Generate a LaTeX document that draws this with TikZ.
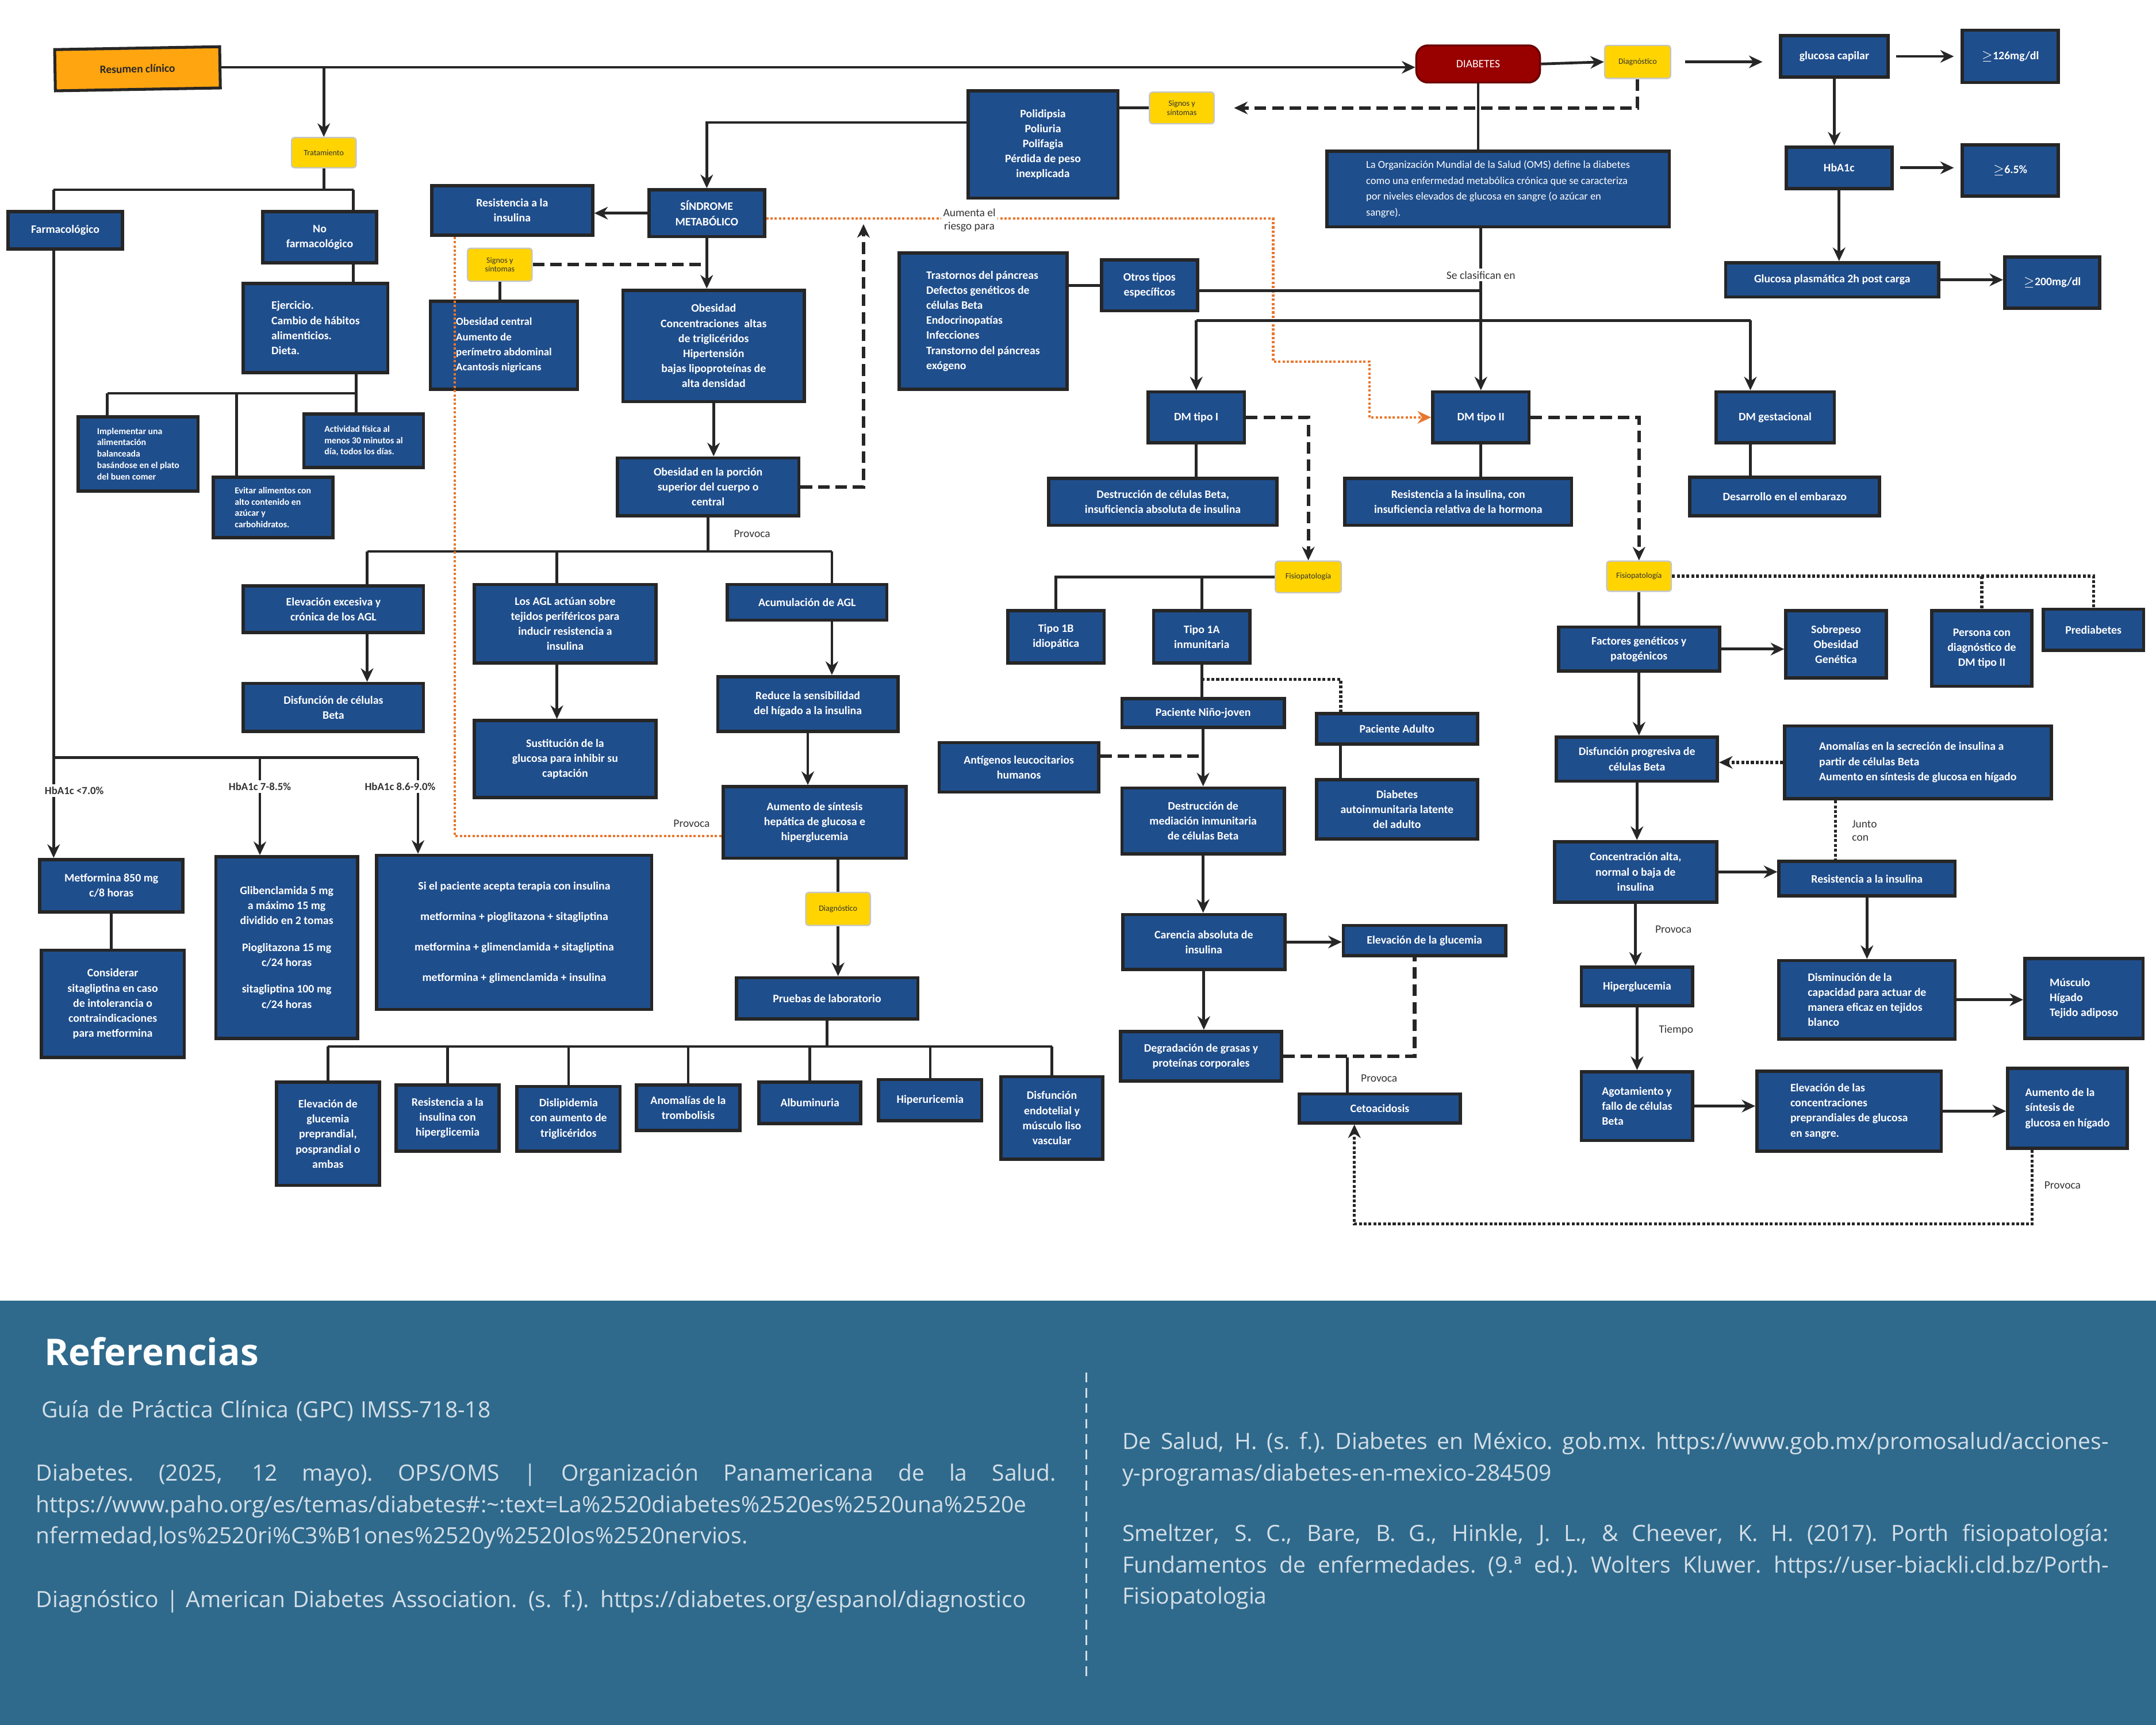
\documentclass[tikz,border=0pt]{standalone}
\usepackage{fontspec}
\setmainfont{Carlito}
\newfontfamily\reffont{Open Sans}
\usepackage{xcolor}
\usetikzlibrary{positioning,calc,arrows.meta}

\definecolor{boxblue}{HTML}{1F4E8C}
\definecolor{edgegray}{HTML}{262626}
\definecolor{labelyellow}{HTML}{FFD400}
\definecolor{clinorange}{HTML}{FFA50F}
\definecolor{diabred}{HTML}{990000}
\definecolor{riskorange}{HTML}{E8772E}
\definecolor{bandblue}{HTML}{2F6A8C}
\definecolor{reftext}{HTML}{D3DEE7}

% a reference line spread to a given width
\newcommand{\justline}[2]{\makebox[#1][s]{\spaceskip=\fontdimen2\font plus 4em\relax\xspaceskip=\fontdimen2\font plus 4em\relax #2}}

\tikzset{
  sz/.style 2 args={minimum width=#1*0.025cm, minimum height=#2*0.025cm},
  bluebox/.style={draw=edgegray, line width=1.7pt, fill=boxblue, text=white, align=center, inner sep=1pt,
    font=\fontsize{5.9}{7.8}\selectfont\bfseries},
  leftbox/.style={bluebox, align=left},
  smallbox/.style={bluebox, align=left, font=\fontsize{4.7}{5.9}\selectfont\bfseries},
  omsbox/.style={bluebox, align=left, font=\fontsize{5.5}{8.2}\selectfont},
  clinbox/.style={draw=edgegray, line width=1.5pt, fill=clinorange, text=black!85, inner sep=1pt,
    font=\fontsize{5.8}{7}\selectfont\bfseries},
  diabbox/.style={draw=diabred!70!black, line width=1pt, fill=diabred, rounded corners=6pt, text=white,
    font=\fontsize{5.8}{7}\selectfont},
  yellowtag/.style={draw=gray!45, line width=0.7pt, fill=labelyellow, rounded corners=1.5pt, text=black!80,
    align=center, inner sep=0.5pt, font=\fontsize{4.2}{4.6}\selectfont},
  edgelabel/.style={fill=white, inner sep=1pt, text=black!80, align=center, font=\fontsize{5.8}{6.8}\selectfont},
  conn/.style={draw=edgegray, line width=1.4pt},
  arr/.style={conn, -{Stealth[length=7pt,width=6.5pt]}},
  dashlink/.style={conn, line width=1.8pt, dash pattern=on 6pt off 3pt},
  dasharr/.style={dashlink, -{Stealth[length=7pt,width=6.5pt]}},
  dotlink/.style={conn, line width=1.6pt, dash pattern=on 1.5pt off 1pt},
  dotarr/.style={dotlink, -{Stealth[length=7pt,width=6.5pt]}},
  risk/.style={draw=riskorange, line width=1.3pt, dash pattern=on 1.2pt off 1pt},
  reftitle/.style={text=white, inner sep=0pt, font=\reffont\fontsize{19}{22}\selectfont\bfseries},
  refbody/.style={text=reftext, inner sep=0pt, align=left, font=\reffont\fontsize{11.6}{16.2}\selectfont},
}

\begin{document}
\begin{tikzpicture}[x=0.025cm, y=-0.025cm]
    \useasboundingbox (0,0) rectangle (1568,1254.4);

    % Summary and diagnosis
    \node [clinbox, sz={120}{30}, rotate=1] (resumen) at (100,50) {Resumen clínico};
    \node [diabbox, sz={90}{27}] (diabetes) at (1075,46.5) {DIABETES};
    \node [yellowtag, sz={48}{24}] (diag1) at (1191,45) {Diagnóstico};
    \node [bluebox, sz={78}{30}] (glucap) at (1334,41) {glucosa capilar};
    \node [bluebox, sz={70}{38}] (g126) at (1462,41) {$\geq$126mg/dl};
    \node [bluebox, sz={77}{30}] (hba1c) at (1337.5,122) {HbA1c};
    \node [bluebox, sz={70}{37}] (g65) at (1462,124) {$\geq$6.5\%};
    \node [bluebox, sz={155}{25}] (gpost) at (1332.5,203.5) {Glucosa plasmática 2h post carga};
    \node [bluebox, sz={69}{37}] (g200) at (1492.5,205.5) {$\geq$200mg/dl};
    \node [omsbox, sz={249}{55}] (oms) at (1089.5,137.5) {La Organización Mundial de la Salud (OMS) define la diabetes\\como una enfermedad metabólica crónica que se caracteriza\\por niveles elevados de glucosa en sangre (o azúcar en\\sangre).};

    % Treatment
    \node [yellowtag, sz={47}{22}] (trat) at (235.5,111) {Tratamiento};
    \node [bluebox, sz={83}{27}] (farma) at (47.5,167.5) {Farmacológico};
    \node [bluebox, sz={83}{37}] (nofarma) at (232.5,172.5) {No\\farmacológico};
    \node [leftbox, sz={105}{65}] (ejerc) at (229.5,238.5) {Ejercicio.\\Cambio de hábitos\\alimenticios.\\Dieta.};
    \node [smallbox, sz={87}{54}] (alim) at (100.5,330) {Implementar una\\alimentación\\balanceada\\basándose en el plato\\del buen comer};
    \node [smallbox, sz={87}{44}] (evitar) at (198.5,369) {Evitar alimentos con\\alto contenido en\\azúcar y\\carbohidratos.};
    \node [smallbox, sz={87}{39}] (activ) at (264.5,320.5) {Actividad física al\\menos 30 minutos al\\día, todos los días.};
    \node [bluebox, sz={104}{38}] (met850) at (81,644) {Metformina 850 mg\\c/8 horas};
    \node [bluebox, sz={104}{78}] (consid) at (82,730) {Considerar\\sitagliptina en caso\\de intolerancia o\\contraindicaciones\\para metformina};
    \node [bluebox, sz={103}{132}] (glib) at (208.5,689) {Glibenclamida 5 mg\\a máximo 15 mg\\dividido en 2 tomas\\[6pt]Pioglitazona 15 mg\\c/24 horas\\[6pt]sitagliptina 100 mg\\c/24 horas};
    \node [bluebox, sz={200}{112}] (sipac) at (374,678) {Si el paciente acepta terapia con insulina\\[8pt]metformina + pioglitazona + sitagliptina\\[8pt]metformina + glimenclamida + sitagliptina\\[8pt]metformina + glimenclamida + insulina};
    \node [edgelabel, font=\fontsize{5.6}{6.6}\selectfont\bfseries] (hbl1) at (54,575) {HbA1c <7.0\%};
    \node [edgelabel, font=\fontsize{5.6}{6.6}\selectfont\bfseries] (hbl2) at (189,572) {HbA1c 7-8.5\%};
    \node [edgelabel, font=\fontsize{5.6}{6.6}\selectfont\bfseries] (hbl3) at (291,572) {HbA1c 8.6-9.0\%};

    % Metabolic syndrome
    \node [bluebox, sz={117}{36}] (resins1) at (372.5,153) {Resistencia a la\\insulina};
    \node [bluebox, sz={84}{34}] (sindrome) at (514,155) {SÍNDROME\\METABÓLICO};
    \node [yellowtag, sz={47}{24}] (signos2) at (363.5,192.5) {Signos y\\síntomas};
    \node [leftbox, sz={107}{64}, font=\fontsize{5.6}{7.8}\selectfont\bfseries] (obcentral) at (366.5,251) {Obesidad central\\Aumento de\\perímetro abdominal\\Acantosis nigricans};
    \node [bluebox, sz={132}{81}] (obesidad) at (519,251.5) {Obesidad\\Concentraciones\ \ altas\\de triglicéridos\\Hipertensión\\bajas lipoproteínas de\\alta densidad};
    \node [bluebox, sz={109}{78}] (polid) at (758.5,105) {Polidipsia\\Poliuria\\Polifagia\\Pérdida de peso\\inexplicada};
    \node [yellowtag, sz={47}{23}] (signos1) at (859.5,78.5) {Signos y\\síntomas};
    \node [bluebox, sz={132}{42}] (obporcion) at (515,354) {Obesidad en la porción\\superior del cuerpo o\\central};
    \node [bluebox, sz={131}{34}] (elevagl) at (242.5,443) {Elevación excesiva y\\crónica de los AGL};
    \node [bluebox, sz={131}{35}] (disfbeta) at (242.5,514.5) {Disfunción de células\\Beta};
    \node [bluebox, sz={132}{57}] (losagl) at (411,453.5) {Los AGL actúan sobre\\tejidos periféricos para\\inducir resistencia a\\insulina};
    \node [bluebox, sz={132}{56}] (sustit) at (411,552) {Sustitución de la\\glucosa para inhibir su\\captación};
    \node [bluebox, sz={116}{26}] (acumagl) at (587,438) {Acumulación de AGL};
    \node [bluebox, sz={131}{40}] (reduce) at (587.5,512) {Reduce la sensibilidad\\del hígado a la insulina};
    \node [bluebox, sz={133}{52}] (aumhep) at (592.5,598) {Aumento de síntesis\\hepática de glucosa e\\hiperglucemia};
    \node [yellowtag, sz={47}{24}] (diag2) at (609.5,661) {Diagnóstico};
    \node [bluebox, sz={132}{30}] (pruebas) at (601.5,726) {Pruebas de laboratorio};

    % Laboratory findings
    \node [bluebox, sz={75}{75}] (lab1) at (238.5,824.5) {Elevación de\\glucemia\\preprandial,\\posprandial o\\ambas};
    \node [bluebox, sz={75}{48}] (lab2) at (325.5,813) {Resistencia a la\\insulina con\\hiperglicemia};
    \node [bluebox, sz={75}{47}] (lab3) at (413.5,813.5) {Dislipidemia\\con aumento de\\triglicéridos};
    \node [bluebox, sz={75}{33}] (lab4) at (500.5,805.5) {Anomalías de la\\trombolisis};
    \node [bluebox, sz={74}{30}] (lab5) at (589,802) {Albuminuria};
    \node [bluebox, sz={75}{30}] (lab6) at (676.5,800) {Hiperuricemia};
    \node [bluebox, sz={74}{60}] (lab7) at (765,813) {Disfunción\\endotelial y\\músculo liso\\vascular};

    % Classification
    \node [leftbox, sz={122}{99}] (trastornos) at (715,233.5) {Trastornos del páncreas\\Defectos genéticos de\\células Beta\\Endocrinopatías\\Infecciones\\Transtorno del páncreas\\exógeno};
    \node [bluebox, sz={70}{37}] (otros) at (836,207.5) {Otros tipos\\específicos};
    \node [edgelabel] (clasif) at (1077,200) {Se clasifican en};
    \node [bluebox, sz={70}{37}] (dm1) at (870,303.5) {DM tipo I};
    \node [bluebox, sz={70}{37}] (dm2) at (1077,303.5) {DM tipo II};
    \node [bluebox, sz={86}{37}] (dmg) at (1291,303.5) {DM gestacional};
    \node [bluebox, sz={166}{34}] (dest1) at (845.7,365) {Destrucción de células Beta,\\insuficiencia absoluta de insulina};
    \node [bluebox, sz={165}{34}] (resrel) at (1060.5,365) {Resistencia a la insulina, con\\insuficiencia relativa de la hormona};
    \node [bluebox, sz={138}{28}] (embarazo) at (1298,361) {Desarrollo en el embarazo};

    % DM tipo I
    \node [yellowtag, sz={48}{23}] (fisio1) at (951.5,419.5) {Fisiopatología};
    \node [bluebox, sz={70}{38}] (tipo1b) at (768,463) {Tipo 1B\\idiopática};
    \node [bluebox, sz={70}{38}] (tipo1a) at (874,463) {Tipo 1A\\inmunitaria};
    \node [bluebox, sz={118}{21}] (ninojoven) at (875,518.5) {Paciente Niño-joven};
    \node [bluebox, sz={117}{22}] (adulto) at (1016,530) {Paciente Adulto};
    \node [bluebox, sz={116}{36}] (antigenos) at (741,558) {Antígenos leucocitarios\\humanos};
    \node [bluebox, sz={118}{48}] (destinm) at (875,597) {Destrucción de\\mediación inmunitaria\\de células Beta};
    \node [bluebox, sz={117}{43}] (lada) at (1016,588.5) {Diabetes\\autoinmunitaria latente\\del adulto};
    \node [bluebox, sz={118}{40}] (carencia) at (875.5,685) {Carencia absoluta de\\insulina};
    \node [bluebox, sz={118}{22}] (elevgluc) at (1036,684) {Elevación de la glucemia};
    \node [bluebox, sz={117}{36}] (degrad) at (873.5,768) {Degradación de grasas y\\proteínas corporales};
    \node [bluebox, sz={117}{21}] (ceto) at (1003.5,806) {Cetoacidosis};

    % DM tipo II
    \node [yellowtag, sz={47}{22}] (fisio2) at (1192,419) {Fisiopatología};
    \node [bluebox, sz={117}{32}] (factores) at (1192,472) {Factores genéticos y\\patogénicos};
    \node [bluebox, sz={73}{49}] (sobrepeso) at (1335.3,468.5) {Sobrepeso\\Obesidad\\Genética};
    \node [bluebox, sz={73}{55}] (persona) at (1441.3,471.5) {Persona con\\diagnóstico de\\DM tipo II};
    \node [bluebox, sz={73}{30}] (prediab) at (1522.5,458) {Prediabetes};
    \node [bluebox, sz={117}{32}] (disfprog) at (1190.5,552) {Disfunción progresiva de\\células Beta};
    \node [leftbox, sz={194}{53}] (anomalias) at (1394.8,554.4) {Anomalías en la secreción de insulina a\\partir de células Beta\\Aumento en síntesis de glucosa en hígado};
    \node [bluebox, sz={118}{44}] (concent) at (1189.5,634) {Concentración alta,\\normal o baja de\\insulina};
    \node [bluebox, sz={128}{25}] (resins2) at (1357.8,639) {Resistencia a la insulina};
    \node [leftbox, sz={128}{57}] (disminuc) at (1357.8,727) {Disminución de la\\capacidad para actuar de\\manera eficaz en tejidos\\blanco};
    \node [leftbox, sz={86}{58}] (musculo) at (1515.6,726) {Músculo\\Hígado\\Tejido adiposo};
    \node [bluebox, sz={81}{28}] (hiperg) at (1190.6,717.4) {Hiperglucemia};
    \node [leftbox, sz={81}{50}] (agota) at (1190.6,804.3) {Agotamiento y\\fallo de células\\Beta};
    \node [leftbox, sz={134}{58}] (elevconc) at (1344.8,808) {Elevación de las\\concentraciones\\preprandiales de glucosa\\en sangre.};
    \node [leftbox, sz={87}{58}] (aumsint) at (1503.6,806) {Aumento de la\\síntesis de\\glucosa en hígado};

    % Junctions
    \coordinate (tb1) at (39,138);
    \coordinate (tb2) at (257,138);
    \coordinate (nb1) at (78,286);
    \coordinate (nb2) at (172,286);
    \coordinate (nb3) at (259,286);
    \coordinate (fb1) at (39,551);
    \coordinate (fb2) at (189,551);
    \coordinate (fb3) at (304,551);
    \coordinate (pb1) at (267,401);
    \coordinate (pb2) at (405,401);
    \coordinate (pb3) at (605,401);
    \coordinate (lbar) at (605,761);
    \coordinate (cb1) at (870,233);
    \coordinate (cb3) at (1273,233);
    \coordinate (riskup) at (628,163);
    \coordinate (o1) at (926,263);
    \coordinate (o2) at (996,263);
    \coordinate (ad1) at (874,494);
    \coordinate (ad2) at (975,494);
    \coordinate (cx) at (980,769);
    \coordinate (jx) at (1335,590);
    \coordinate (bk1) at (1478,890);
    \coordinate (bk2) at (985,890);

    % Top row connectors
    \draw [arr] (resumen.east) -- (resumen.east -| diabetes.west);
    \draw [arr] (resumen.east -| trat.north) -- (trat.north);
    \draw [arr] (diabetes.east) -- (diag1.west);
    \draw [arr, shorten <=0.25cm, shorten >=0.3cm] (diag1.east) -- (diag1.east -| glucap.west);
    \draw [arr, shorten <=0.12cm, shorten >=0.12cm] (glucap.east) -- (glucap.east -| g126.west);
    \draw [arr] (glucap.south) -- (glucap.south |- hba1c.north);
    \draw [arr, shorten <=0.12cm, shorten >=0.12cm] (hba1c.east) -- (hba1c.east -| g65.west);
    \draw [arr] (hba1c.south) -- (hba1c.south |- gpost.north);
    \draw [arr] (gpost.east) -- (gpost.east -| g200.west);
    \draw [conn] (diabetes.south) -- (diabetes.south |- oms.north);
    \draw [dasharr, shorten >=0.35cm] (diag1.south) |- (signos1.east);

    % Treatment connectors
    \draw [conn] (trat.south) -- (trat.south |- tb1);
    \draw [conn] (tb1) -- (tb2);
    \draw [conn] (tb1) -- (tb1 |- farma.north);
    \draw [conn] (tb2) -- (tb2 |- nofarma.north);
    \draw [conn] (tb2 |- nofarma.south) -- (tb2 |- ejerc.north);
    \draw [conn] (nb3 |- ejerc.south) -- (nb3);
    \draw [conn] (nb1) -- (nb3);
    \draw [conn] (nb1) -- (nb1 |- alim.north);
    \draw [conn] (nb2) -- (nb2 |- evitar.north);
    \draw [conn] (nb3) -- (nb3 |- activ.north);
    \draw [conn] (tb1 |- farma.south) -- (fb1) -- (fb3);
    \draw [conn] (fb1) -- (fb1 |- hbl1.north);
    \draw [arr] (fb1 |- hbl1.south) -- (fb1 |- met850.north);
    \draw [conn] (fb2) -- (fb2 |- hbl2.north);
    \draw [arr] (fb2 |- hbl2.south) -- (fb2 |- glib.north);
    \draw [conn] (fb3) -- (fb3 |- hbl3.north);
    \draw [arr] (fb3 |- hbl3.south) -- (fb3 |- sipac.north);
    \draw [conn] (met850.south) -- (met850.south |- consid.north);

    % Metabolic syndrome connectors
    \draw [arr] ([yshift=0.4cm]polid.west) -| (sindrome.north);
    \draw [conn] (signos1.west) -- (signos1.west -| polid.east);
    \draw [arr] (sindrome.west) -- (sindrome.west -| resins1.east);
    \draw [arr] (sindrome.south) -- (sindrome.south |- obesidad.north);
    \draw [dashlink] (signos2.east) -- (signos2.east -| sindrome.south);
    \draw [conn] (signos2.south) -- (signos2.south |- obcentral.north);
    \draw [arr] (obesidad.south) -- (obesidad.south |- obporcion.north);
    \draw [dasharr] (obporcion.east) -| (riskup);
    \draw [conn] (obporcion.south) -- (obporcion.south |- pb1);
    \draw [conn] (pb1) -- (pb3);
    \draw [conn] (pb1) -- (pb1 |- elevagl.north);
    \draw [conn] (pb2) -- (pb2 |- losagl.north);
    \draw [conn] (pb3) -- (pb3 |- acumagl.north);
    \draw [arr] (pb1 |- elevagl.south) -- (pb1 |- disfbeta.north);
    \draw [arr] (pb2 |- losagl.south) -- (pb2 |- sustit.north);
    \draw [arr] (pb3 |- acumagl.south) -- (pb3 |- reduce.north);
    \draw [arr] (reduce.south) -- (reduce.south |- aumhep.north);
    \draw [conn] (aumhep.south -| diag2) -- (diag2.north);
    \draw [arr] (diag2.south) -- (diag2.south |- pruebas.north);
    \draw [conn] (pruebas.south) -- (pruebas.south |- lbar);
    \draw [conn] (lab1.north |- lbar) -- (lab7.north |- lbar);
    \foreach \lb in {lab1,lab2,lab3,lab4,lab5,lab6,lab7}
        \draw [conn] (\lb.north |- lbar) -- (\lb.north);

    % Risk paths
    \draw [risk] ([xshift=0.45cm]resins1.south west) |- ([yshift=-0.25cm]aumhep.west);
    \draw [risk, -{Stealth[length=7pt,width=6.5pt]}] ([yshift=-0.1cm]sindrome.east) -| (o1) -- (o2) |- (dm2.west);
    \node [edgelabel] (riesgo) at (705,160) {Aumenta el\\riesgo para};
    \node [edgelabel] (provoca1) at (547,388) {Provoca};
    \node [edgelabel] (provoca2) at (503,599) {Provoca};

    % Classification connectors
    \draw [conn] (clasif |- oms.south) -- (clasif.north);
    \draw [arr] (clasif.south) -- (clasif.south |- dm2.north);
    \draw [conn] (otros.west) -- (otros.west -| trastornos.east);
    \draw [conn] ([yshift=-0.1cm]otros.east) -- ([yshift=-0.1cm]otros.east -| clasif);
    \draw [conn] (cb1) -- (cb3);
    \draw [arr] (cb1) -- (cb1 |- dm1.north);
    \draw [arr] (cb3) -- (cb3 |- dmg.north);
    \draw [conn] (dm1.south) -- (dm1.south |- dest1.north);
    \draw [conn] (dm2.south) -- (dm2.south |- resrel.north);
    \draw [conn] (cb3 |- dmg.south) -- (cb3 |- embarazo.north);
    \draw [dasharr] (dm1.east) -| (fisio1.north);
    \draw [dasharr] (dm2.east) -| (fisio2.north);

    % DM tipo I connectors
    \draw [conn] (fisio1.west) -| (tipo1b.north);
    \draw [conn] (fisio1.west -| tipo1a.north) -- (tipo1a.north);
    \draw [conn] (tipo1a.south) -- (tipo1a.south |- ninojoven.north);
    \draw [dotlink] (ad1) -- (ad2) -- (ad2 |- adulto.north);
    \draw [arr] (ninojoven.south) -- (ninojoven.south |- destinm.north);
    \draw [dashlink] ([yshift=0.2cm]antigenos.east) -- ([yshift=0.2cm]antigenos.east -| destinm.north);
    \draw [conn] (ad2 |- adulto.south) -- (ad2 |- lada.north);
    \draw [arr] (destinm.south) -- (destinm.south |- carencia.north);
    \draw [arr] (carencia.east) -- (carencia.east -| elevgluc.west);
    \draw [arr] (carencia.south) -- (carencia.south |- degrad.north);
    \draw [dashlink] (degrad.east) -| ([xshift=-0.18cm]elevgluc.south);
    \draw [conn] (cx) -- (cx |- ceto.north);
    \node [edgelabel] (provoca3) at (1003,784) {Provoca};

    % DM tipo II connectors
    \draw [dotlink] (fisio2.east) -| (prediab.north);
    \draw [dotlink] (fisio2.east -| persona.north) -- (persona.north);
    \draw [conn] (fisio2.south) -- (fisio2.south |- factores.north);
    \draw [arr] (factores.east) -- (factores.east -| sobrepeso.west);
    \draw [arr] (factores.south) -- (factores.south |- disfprog.north);
    \draw [dotarr] (anomalias.west) -- (anomalias.west -| disfprog.east);
    \draw [dotlink] (jx |- anomalias.south) -- (jx |- resins2.north);
    \draw [arr] (disfprog.south) -- (disfprog.south |- concent.north);
    \draw [arr] (concent.east) -- (concent.east -| resins2.west);
    \draw [arr] (resins2.south) -- (resins2.south |- disminuc.north);
    \draw [arr] (disminuc.east) -- (disminuc.east -| musculo.west);
    \draw [arr] (concent.south) -- (concent.south |- hiperg.north);
    \draw [arr] (hiperg.south) -- (hiperg.south |- agota.north);
    \draw [arr] (agota.east) -- (agota.east -| elevconc.west);
    \draw [arr] (elevconc.east) -- (elevconc.east -| aumsint.west);
    \draw [dotarr] (bk1 |- aumsint.south) -- (bk1) -- (bk2) -- (bk2 |- ceto.south);
    \node [edgelabel, align=left] (junto) at (1356,604) {Junto\\con};
    \node [edgelabel] (provoca4) at (1217,676) {Provoca};
    \node [edgelabel] (tiempo) at (1219,749) {Tiempo};
    \node [edgelabel] (provoca5) at (1500,862) {Provoca};

    % References band
    \fill [bandblue] (0,946) rectangle (1568,1254.4);
    \draw [reftext, line width=1pt, dash pattern=on 5pt off 3pt] (790,998) -- (790,1221);
    \node [reftitle, anchor=base west] (reftitle) at (32,993) {Referencias};
    \node [refbody, anchor=base west, text width=18.5cm] (ref1) at (30,1031) {Guía de Práctica Clínica (GPC) IMSS-718-18};
    \node [refbody, anchor=base west, text width=18.54cm] (ref2) at (26,1077) {\justline{18.54cm}{Diabetes. (2025, 12 mayo). OPS/OMS | Organización Panamericana de la Salud.}\\https://www.paho.org/es/temas/diabetes\#:\textasciitilde:text=La\%2520diabetes\%2520es\%2520una\%2520e\\nfermedad,los\%2520ri\%C3\%B1ones\%2520y\%2520los\%2520nervios.};
    \node [refbody, anchor=base west, text width=18.54cm] (ref3) at (26,1169) {Diagnóstico | American Diabetes Association. (s. f.). https://diabetes.org/espanol/diagnostico};
    \node [refbody, anchor=base west, text width=17.93cm] (ref4) at (816,1054) {\justline{17.93cm}{De Salud, H. (s. f.). Diabetes en México. gob.mx. https://www.gob.mx/promosalud/acciones-}\\y-programas/diabetes-en-mexico-284509};
    \node [refbody, anchor=base west, text width=17.93cm] (ref5) at (816,1121) {\justline{17.93cm}{Smeltzer, S. C., Bare, B. G., Hinkle, J. L., \& Cheever, K. H. (2017). Porth fisiopatología:}\\\justline{17.93cm}{Fundamentos de enfermedades. (9.ª ed.). Wolters Kluwer. https://user-biackli.cld.bz/Porth-}\\Fisiopatologia};
\end{tikzpicture}
\end{document}
